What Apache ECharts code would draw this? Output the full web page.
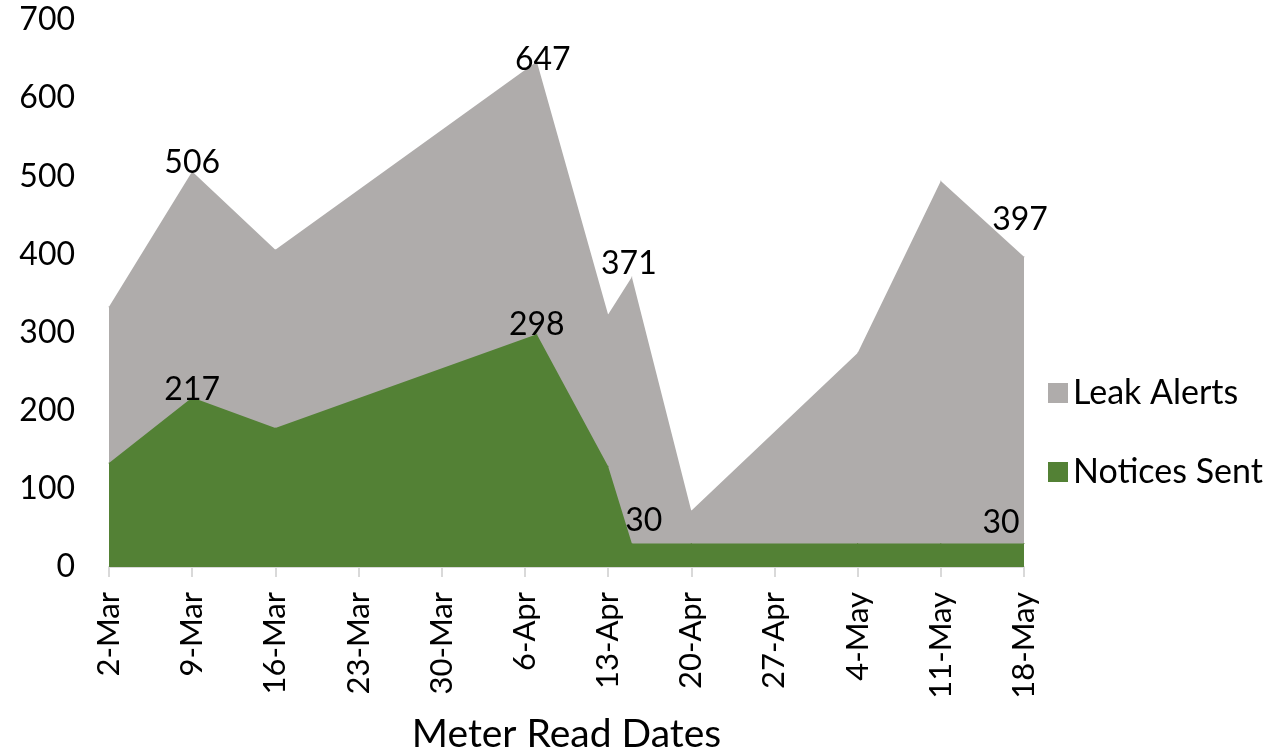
<!DOCTYPE html>
<html>
<head>
<meta charset="utf-8">
<script src="https://cdn.jsdelivr.net/npm/echarts@6/dist/echarts.min.js"></script>
<style>
html,body{margin:0;padding:0;background:#fff;}
#chart{width:1272px;height:750px;}
</style>
</head>
<body>
<div id="chart"></div>
<script>
// ---- data ----
var dates = ['2-Mar','9-Mar','16-Mar','7-Apr','13-Apr','15-Apr','20-Apr','4-May','11-May','18-May'];
var leakAlerts = [333, 506, 406, 647, 323, 371, 72, 274, 494, 397];
var noticesSent = [133, 217, 178, 298, 129, 30, 30, 30, 30, 30];
var tickLabels = ['2-Mar','9-Mar','16-Mar','23-Mar','30-Mar','6-Apr','13-Apr','20-Apr','27-Apr','4-May','11-May','18-May'];
var yTicks = [0, 100, 200, 300, 400, 500, 600, 700];
var seriesNames = ['Leak Alerts', 'Notices Sent'];
var axisTitle = 'Meter Read Dates';

// ---- helpers ----
var monthIdx = {Jan:0,Feb:1,Mar:2,Apr:3,May:4,Jun:5,Jul:6,Aug:7,Sep:8,Oct:9,Nov:10,Dec:11};
function dayNum(s){
  var p = s.split('-');
  return Date.UTC(2021, monthIdx[p[1]], +p[0]) / 86400000;
}
var day0 = dayNum(tickLabels[0]);
function dayOff(s){ return dayNum(s) - day0; }

var FONT = 'Lato';
// label styling per labelled point (index -> offset)
var leakLabelOffsets = {1:[0,-9], 3:[6,-2], 5:[-3,-13], 9:[-4,-37]};
var noticeLabelOffsets = {1:[0,-8], 3:[0,-9], 5:[12,-23], 9:[-23,-21]};

function build(values, offsets){
  return values.map(function(v, i){
    var item = {value: [dayOff(dates[i]), v]};
    if (offsets[i]) {
      item.label = {show: true, position: 'inside', offset: offsets[i],
        formatter: String(v), color: '#000', fontFamily: FONT, fontSize: 32,
        align: 'center', verticalAlign: 'middle'};
    }
    return item;
  });
}

var GRAY = '#AFACAB', GREEN = '#538135';
var chart = echarts.init(document.getElementById('chart'));
chart.setOption({
  animation: false,
  backgroundColor: '#fff',
  textStyle: {fontFamily: FONT},
  grid: {left: 109, right: 248, top: 20, bottom: 183, containLabel: false, outerBoundsMode: 'none'},
  legend: {
    orient: 'vertical', left: 1043, top: 368,
    itemWidth: 20, itemHeight: 20, itemGap: 39, icon: 'rect',
    data: [{name: seriesNames[0], itemStyle: {color: GRAY}}, {name: seriesNames[1], itemStyle: {color: GREEN}}],
    textStyle: {fontFamily: FONT, fontSize: 34, color: '#000', lineHeight: 40, padding: [0,0,0,0]},
    itemStyle: {borderWidth: 0}
  },
  xAxis: {
    type: 'value', min: 0, max: dayOff(tickLabels[tickLabels.length-1]), interval: 7,
    name: axisTitle, nameLocation: 'middle', nameGap: 148,
    nameTextStyle: {fontFamily: FONT, fontSize: 39, color: '#000'},
    axisLine: {show: true, lineStyle: {color: '#D9D9D9', width: 2}},
    axisTick: {show: true, length: 10, lineStyle: {color: '#D9D9D9', width: 2}},
    splitLine: {show: false},
    axisLabel: {rotate: 90, margin: 25, fontFamily: FONT, fontSize: 31, color: '#000',
      formatter: function(v){ return tickLabels[Math.round(v/7)] || ''; }}
  },
  yAxis: {
    type: 'value', min: yTicks[0], max: yTicks[yTicks.length-1], interval: 100,
    axisLine: {show: false}, axisTick: {show: false}, splitLine: {show: false},
    axisLabel: {margin: 34, fontFamily: FONT, fontSize: 32, color: '#000', padding: [4,0,0,0]}
  },
  series: [
    {
      name: seriesNames[0], type: 'line', data: build(leakAlerts, leakLabelOffsets),
      symbol: 'circle', symbolSize: 1, showSymbol: true,
      itemStyle: {color: GRAY}, lineStyle: {width: 0, color: GRAY},
      areaStyle: {color: GRAY, opacity: 1}, z: 2
    },
    {
      name: seriesNames[1], type: 'line', data: build(noticesSent, noticeLabelOffsets),
      symbol: 'circle', symbolSize: 1, showSymbol: true,
      itemStyle: {color: GREEN}, lineStyle: {width: 0, color: GREEN},
      areaStyle: {color: GREEN, opacity: 1}, z: 3
    }
  ]
});
</script>
</body>
</html>
